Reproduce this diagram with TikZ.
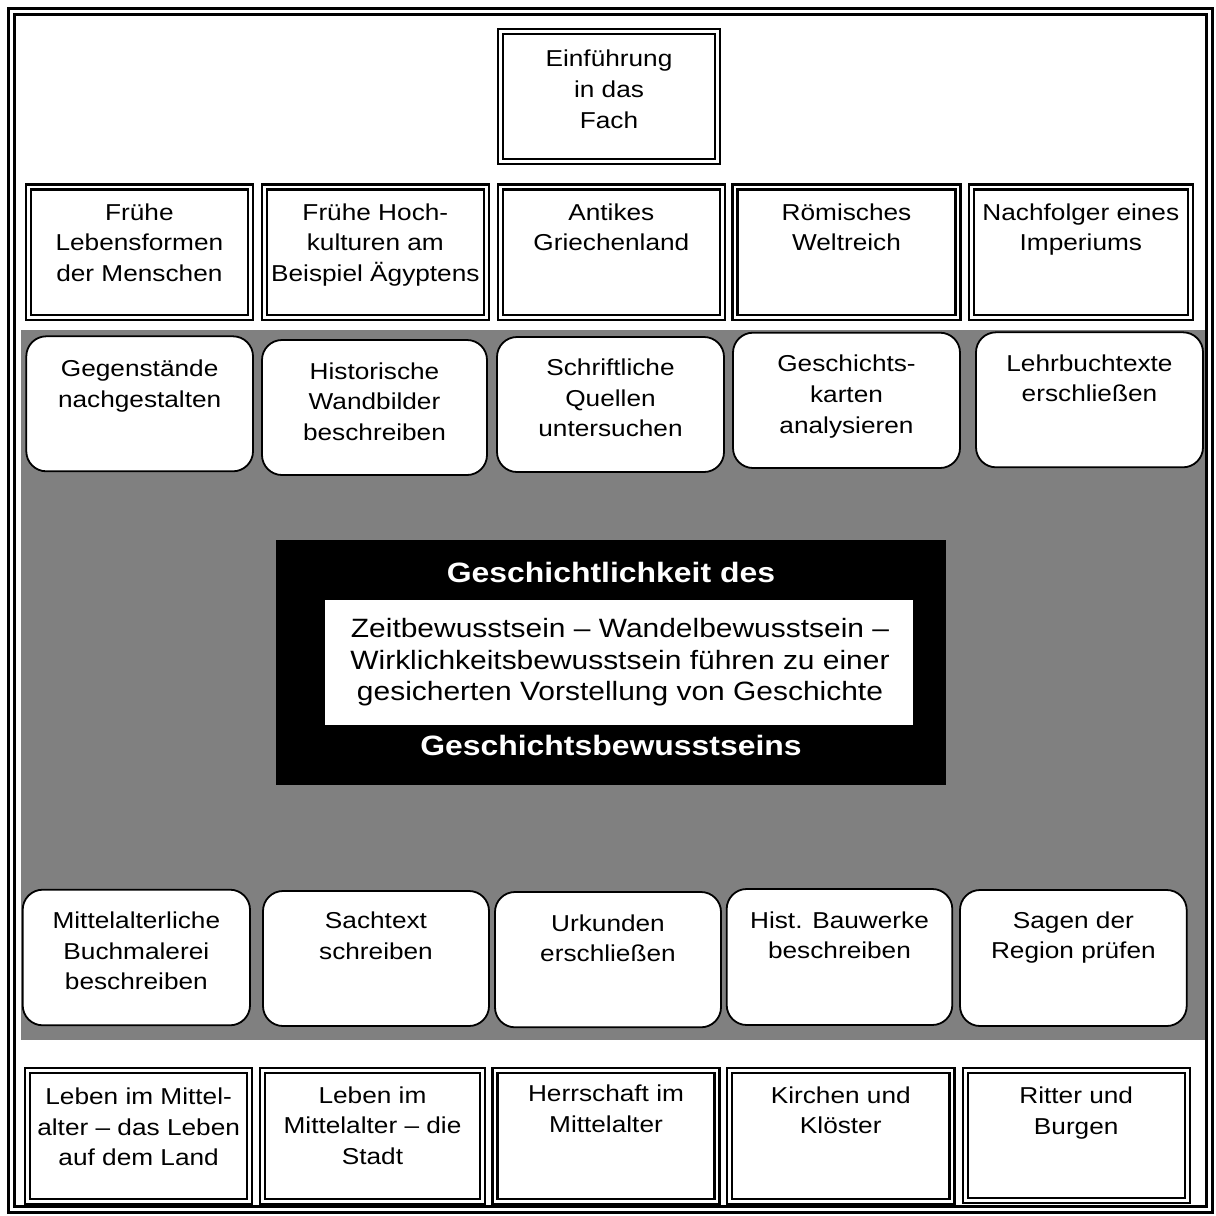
\documentclass[tikz,border=0pt]{standalone}
\usepackage{fontspec}
\setmainfont{Liberation Sans}
\newfontfamily\cellfont[FakeStretch=1.14]{Liberation Sans}
\newfontfamily\corefont[FakeStretch=1.13]{Liberation Sans}
\newfontfamily\headfont[FakeStretch=1.14]{Liberation Sans}
\usetikzlibrary{fit}
\definecolor{panelgray}{HTML}{808080}

% centred lines whose baseline is that of the first line
\newcommand\stack[1]{\begin{tabular}[t]{@{}c@{}}#1\end{tabular}}
% cell with a double frame: outer-line corners, first baseline, text
\newcommand\dblcell[7]{%
  \node[dblbox, fit={(#2+2.5,#3+2.5) (#4-2.5,#5-2.5)}] (#1) {};
  \node[celltext] (#1-t) at ({(#2+#4)/2},#6) {\stack{#7}};
}
% cell with rounded corners
\newcommand\roundcell[7]{%
  \node[roundbox, fit={(#2,#3) (#4,#5)}] (#1) {};
  \node[celltext] (#1-t) at ({(#2+#4)/2},#6) {\stack{#7}};
}

\begin{document}
\begin{tikzpicture}[x=1pt,y=-1pt,
  every node/.style={inner sep=0pt, outer sep=0pt},
  framebox/.style={draw, line width=2.5pt, double=white, double distance=3.5pt},
  dblbox/.style={draw, fill=white, line width=2.2pt, double=white, double distance=2.8pt},
  roundbox/.style={draw, fill=white, line width=1.8pt, rounded corners=20pt},
  celltext/.style={font=\cellfont\fontsize{23}{30.7}\selectfont, anchor=base, text=black},
  coretext/.style={font=\corefont\fontsize{26.5}{31.5}\selectfont, anchor=base, text=black},
  headtext/.style={font=\headfont\bfseries\fontsize{28}{32}\selectfont, anchor=base, text=white}]
\useasboundingbox (0,0) rectangle (1216,1216);

% page frame
\node[framebox, fit={(11.5,11.5) (1209.5,1209.5)}] (frame) {};

% grey band behind the skills
\node[fill=panelgray, fit={(20.7,330) (1205,1039.5)}] (band) {};

% course introduction
\dblcell{intro}{497.7}{29}{720.3}{163.7}{66.7}{Einführung\\in das\\Fach}

% upper row of topics
\dblcell{t1}{25.8}{184.5}{253}{320}{220}{Frühe\\Lebensformen\\der Menschen}
\dblcell{t2}{262}{184.5}{488.7}{320}{220}{Frühe Hoch-\\kulturen am\\Beispiel Ägyptens}
\dblcell{t3}{497.7}{184.5}{725}{320}{220}{Antikes\\Griechenland}
\dblcell{t4}{732.5}{184.5}{960.5}{320}{220}{Römisches\\Weltreich}
\dblcell{t5}{969}{184.5}{1192.7}{320}{220}{Nachfolger eines\\Imperiums}

% upper row of methods
\roundcell{r1}{26.3}{336.3}{253}{471.3}{376.5}{Gegenstände\\nachgestalten}
\roundcell{r2}{262}{340}{487}{475}{379}{Historische\\Wandbilder\\beschreiben}
\roundcell{r3}{497}{337}{724}{472}{375.5}{Schriftliche\\Quellen\\untersuchen}
\roundcell{r4}{733}{332.7}{960}{468}{371.7}{Geschichts-\\karten\\analysieren}
\roundcell{r5}{976}{332.3}{1203}{467.3}{371}{Lehrbuchtexte\\erschließen}

% central aim
\node[fill=black, fit={(276,540) (946,785)}] (core) {};
\node[fill=white, fit={(325,600) (913,725)}] (coremsg) {};
\node[headtext] (core-top) at (611,582) {Geschichtlichkeit des};
\node[coretext] (coremsg-t) at (620,637.5) {\stack{Zeitbewusstsein – Wandelbewusstsein –\\Wirklichkeitsbewusstsein führen zu einer\\gesicherten Vorstellung von Geschichte}};
\node[headtext] (core-bottom) at (611,755) {Geschichtsbewusstseins};

% lower row of methods
\roundcell{q1}{22.7}{889.7}{250}{1025.3}{928.3}{Mittelalterliche\\Buchmalerei\\beschreiben}
\roundcell{q2}{263}{891}{489}{1026}{928.5}{Sachtext\\schreiben}
\roundcell{q3}{495}{892}{721}{1027.3}{931}{Urkunden\\erschließen}
\roundcell{q4}{726.7}{889}{952.3}{1025}{928}{Hist. Bauwerke\\beschreiben}
\roundcell{q5}{960}{890}{1186.7}{1026}{928}{Sagen der\\Region prüfen}

% lower row of topics
\dblcell{b1}{25.3}{1068}{252}{1204}{1104.3}{Leben im Mittel-\\alter – das Leben\\auf dem Land}
\dblcell{b2}{260}{1068}{485}{1204}{1103}{Leben im\\Mittelalter – die\\Stadt}
\dblcell{b3}{492.5}{1068}{719.5}{1204}{1101.5}{Herrschaft im\\Mittelalter}
\dblcell{b4}{727}{1068}{954.5}{1204}{1103}{Kirchen und\\Klöster}
\dblcell{b5}{962.7}{1067.7}{1189.7}{1203}{1103.3}{Ritter und\\Burgen}
\end{tikzpicture}
\end{document}
